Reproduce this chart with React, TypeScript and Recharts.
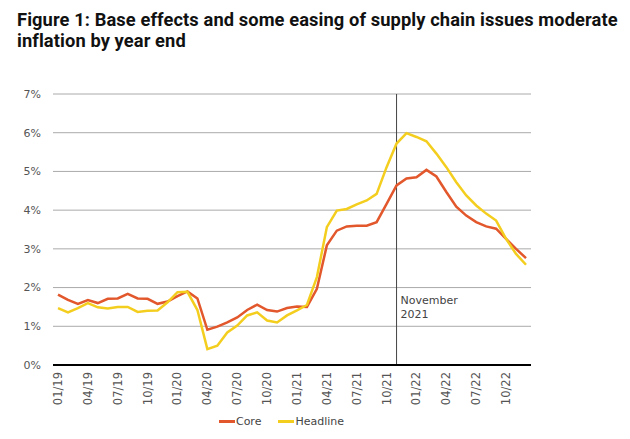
import React from "react";
import {
  LineChart,
  Line,
  XAxis,
  YAxis,
  CartesianGrid,
  ReferenceLine,
  Legend,
} from "recharts";

// monthly, Jan 2019 .. Dec 2022
const months = [
  "01/19", "02/19", "03/19", "04/19", "05/19", "06/19", "07/19", "08/19", "09/19", "10/19", "11/19", "12/19",
  "01/20", "02/20", "03/20", "04/20", "05/20", "06/20", "07/20", "08/20", "09/20", "10/20", "11/20", "12/20",
  "01/21", "02/21", "03/21", "04/21", "05/21", "06/21", "07/21", "08/21", "09/21", "10/21", "11/21", "12/21",
  "01/22", "02/22", "03/22", "04/22", "05/22", "06/22", "07/22", "08/22", "09/22", "10/22", "11/22", "12/22",
];

const core = [
  1.82, 1.68, 1.58, 1.68, 1.6, 1.71, 1.72, 1.84, 1.72, 1.71, 1.58, 1.64,
  1.78, 1.9, 1.72, 0.91, 0.99, 1.1, 1.23, 1.42, 1.56, 1.42, 1.38, 1.47,
  1.51, 1.5, 1.97, 3.09, 3.47, 3.58, 3.6, 3.6, 3.69, 4.16, 4.64, 4.82,
  4.85, 5.04, 4.87, 4.47, 4.09, 3.86, 3.69, 3.58, 3.52, 3.26, 3.0, 2.76,
];

const headline = [
  1.47, 1.36, 1.47, 1.6, 1.49, 1.46, 1.5, 1.5, 1.37, 1.4, 1.41, 1.62,
  1.88, 1.89, 1.42, 0.41, 0.5, 0.84, 1.02, 1.28, 1.36, 1.15, 1.1, 1.28,
  1.41, 1.55, 2.27, 3.56, 3.99, 4.03, 4.15, 4.25, 4.42, 5.11, 5.72, 5.99,
  5.89, 5.78, 5.46, 5.11, 4.72, 4.38, 4.12, 3.91, 3.73, 3.26, 2.87, 2.59,
];

const yTicks = [0, 1, 2, 3, 4, 5, 6, 7];

const rows = months.map((m, i) => ({ month: m, core: core[i], headline: headline[i] }));

const FONT = "'DejaVu Sans', Verdana, sans-serif";

const MonthTick = ({ x, y, payload }: any) => (
  <text
    x={x}
    y={y}
    transform={`rotate(-90, ${x}, ${y})`}
    textAnchor="end"
    dx={-5}
    dy={4}
    fill="#555"
    fontSize={11.5}
    fontFamily={FONT}
  >
    {payload.value}
  </text>
);

const NovLabel = ({ viewBox }: any) => {
  const x = viewBox.x + 4;
  return (
    <text x={x} y={304} fill="#444" fontSize={11} fontFamily={FONT}>
      <tspan x={x}>November</tspan>
      <tspan x={x} dy={14}>2021</tspan>
    </text>
  );
};

const LegendBox = ({ payload }: any) => (
  <div
    style={{
      display: "flex",
      justifyContent: "center",
      alignItems: "center",
      height: 20,
      paddingLeft: 36,
      fontFamily: FONT,
      fontSize: 11,
      color: "#444",
    }}
  >
    {payload.map((p: any) => (
      <span key={p.value} style={{ display: "flex", alignItems: "center", marginRight: 17 }}>
        <span style={{ display: "inline-block", width: 16, height: 3, background: p.color, marginRight: 1 }} />
        {p.value}
      </span>
    ))}
  </div>
);

export default function App() {
  return (
    <div style={{ position: "relative", width: 630, height: 439, margin: -8, background: "#fff" }}>
      <div
        style={{
          position: "absolute",
          left: 17,
          top: 9,
          fontFamily: "Roboto, sans-serif",
          fontWeight: 700,
          fontSize: 18.3,
          letterSpacing: 0.1,
          lineHeight: "21px",
          color: "#111",
          whiteSpace: "nowrap",
        }}
      >
        Figure 1: Base effects and some easing of supply chain issues moderate
        <br />
        inflation by year end
      </div>
      <div style={{ position: "absolute", left: 0, top: 0 }}>
        <LineChart
          width={630}
          height={439}
          data={rows}
          margin={{ top: 94, right: 99, left: 13, bottom: 8 }}
        >
          <CartesianGrid vertical={false} stroke="#aaa" />
          <XAxis
            dataKey="month"
            interval={2}
            tick={<MonthTick />}
            tickLine={false}
            tickSize={0}
            tickMargin={2}
            height={46}
            padding={{ left: 5, right: 5 }}
            axisLine={{ stroke: "#000", strokeWidth: 2 }}
          />
          <YAxis
            domain={[0, 7]}
            ticks={yTicks}
            width={40}
            axisLine={false}
            tickLine={false}
            tickMargin={6}
            tickFormatter={(v) => `${v}%`}
            tick={{ fill: "#555", fontSize: 11, fontFamily: FONT }}
          />
          <ReferenceLine x="11/21" stroke="#444" strokeWidth={1} label={<NovLabel />} />
          <Legend verticalAlign="bottom" height={20} content={<LegendBox />} />
          <Line
            type="linear"
            dataKey="core"
            name="Core"
            stroke="#E2572B"
            strokeWidth={2.5}
            dot={false}
            isAnimationActive={false}
          />
          <Line
            type="linear"
            dataKey="headline"
            name="Headline"
            stroke="#F4CE1E"
            strokeWidth={2.5}
            dot={false}
            isAnimationActive={false}
          />
        </LineChart>
      </div>
    </div>
  );
}
